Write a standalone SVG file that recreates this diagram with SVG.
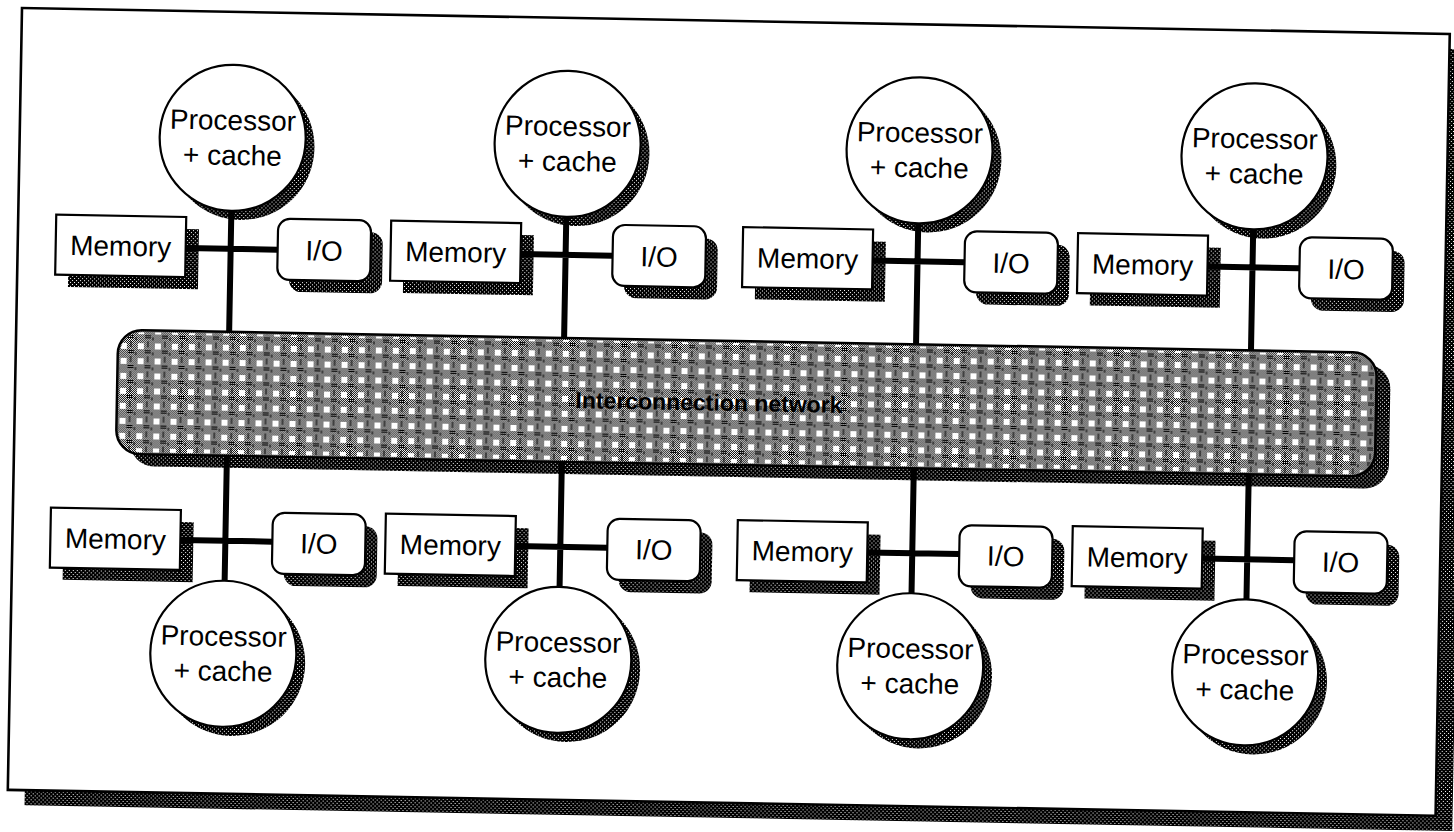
<svg xmlns="http://www.w3.org/2000/svg" width="1454" height="832" viewBox="0 0 1454 832">
<defs>
<pattern id="shade" width="4" height="4" patternUnits="userSpaceOnUse"><rect width="4" height="4" fill="#000"/><rect x="1" y="1" width="1" height="1" fill="#fff"/><rect x="3" y="3" width="1" height="1" fill="#fff"/></pattern>
<pattern id="chk" width="2" height="2" patternUnits="userSpaceOnUse"><rect width="2" height="2" fill="#fff"/><rect width="1" height="1" fill="#000"/><rect x="1" y="1" width="1" height="1" fill="#000"/></pattern>
<pattern id="patch" width="17" height="15" patternUnits="userSpaceOnUse"><rect x="3" y="3" width="6" height="6" fill="#fff"/><path d="M10 10.5h6M10 12.5h6M1 12v3M13 1v6" stroke="#000" stroke-width="1"/></pattern>
<style>
.ln{stroke:#000;stroke-width:6;fill:none;stroke-linecap:butt}
.box{fill:#fff;stroke:#000;stroke-width:2.2}
.sh{fill:url(#shade)}
.lbl{font-family:"Liberation Sans",Arial,Helvetica,sans-serif;font-size:28px;text-anchor:middle;fill:#000}
.net{font-family:"Liberation Sans",Arial,Helvetica,sans-serif;font-size:23px;font-weight:bold;text-anchor:middle;fill:#000}
</style>
</defs>
<rect width="1454" height="832" fill="#fff"/>
<g transform="translate(22 8) rotate(1.04)">
<g id="frame">
<rect class="sh" x="17" y="15" width="1428" height="782"/>
<rect x="0" y="0" width="1428" height="782" fill="#fff" stroke="#000" stroke-width="2.6"/>
</g>
<g id="network">
<rect class="sh" x="116" y="332" width="1259" height="124" rx="24"/>
<rect x="102" y="320" width="1259" height="124" rx="24" fill="url(#chk)" stroke="#000" stroke-width="2.5"/>
<rect x="104" y="322" width="1255" height="120" rx="22" fill="url(#patch)"/>
<text class="net" x="694" y="390">Interconnection network</text>
</g>

<!-- top row -->
<g id="proc-t1"><circle class="sh" cx="222" cy="135" r="73"/><circle class="box" cx="213" cy="126" r="73"/><text class="lbl" x="213" y="118">Processor</text><text class="lbl" x="213" y="153">+ cache</text></g>
<g id="mem-t1"><rect class="sh" x="51" y="218" width="130" height="60"/><rect class="box" x="38" y="206" width="130" height="60"/><text class="lbl" x="103" y="246">Memory</text></g>
<g id="io-t1"><rect class="sh" x="272" y="218" width="93" height="61" rx="12"/><rect class="box" x="260" y="206" width="93" height="61" rx="12"/><text class="lbl" x="306.5" y="247">I/O</text></g>

<g id="proc-t2"><circle class="sh" cx="557" cy="135" r="73"/><circle class="box" cx="548" cy="126" r="73"/><text class="lbl" x="548" y="118">Processor</text><text class="lbl" x="548" y="153">+ cache</text></g>
<g id="mem-t2"><rect class="sh" x="386" y="218" width="130" height="60"/><rect class="box" x="373" y="206" width="130" height="60"/><text class="lbl" x="438" y="246">Memory</text></g>
<g id="io-t2"><rect class="sh" x="607" y="218" width="93" height="61" rx="12"/><rect class="box" x="595" y="206" width="93" height="61" rx="12"/><text class="lbl" x="641.5" y="247">I/O</text></g>

<g id="proc-t3"><circle class="sh" cx="909" cy="135" r="73"/><circle class="box" cx="900" cy="126" r="73"/><text class="lbl" x="900" y="118">Processor</text><text class="lbl" x="900" y="153">+ cache</text></g>
<g id="mem-t3"><rect class="sh" x="738" y="218" width="130" height="60"/><rect class="box" x="725" y="206" width="130" height="60"/><text class="lbl" x="790" y="246">Memory</text></g>
<g id="io-t3"><rect class="sh" x="959" y="218" width="93" height="61" rx="12"/><rect class="box" x="947" y="206" width="93" height="61" rx="12"/><text class="lbl" x="993.5" y="247">I/O</text></g>

<g id="proc-t4"><circle class="sh" cx="1244" cy="135" r="73"/><circle class="box" cx="1235" cy="126" r="73"/><text class="lbl" x="1235" y="118">Processor</text><text class="lbl" x="1235" y="153">+ cache</text></g>
<g id="mem-t4"><rect class="sh" x="1073" y="218" width="130" height="60"/><rect class="box" x="1060" y="206" width="130" height="60"/><text class="lbl" x="1125" y="246">Memory</text></g>
<g id="io-t4"><rect class="sh" x="1294" y="218" width="93" height="61" rx="12"/><rect class="box" x="1282" y="206" width="93" height="61" rx="12"/><text class="lbl" x="1328.5" y="247">I/O</text></g>

<!-- bottom row -->
<g id="proc-b1"><circle class="sh" cx="222" cy="651" r="73"/><circle class="box" cx="213" cy="642" r="73"/><text class="lbl" x="213" y="634">Processor</text><text class="lbl" x="213" y="669">+ cache</text></g>
<g id="mem-b1"><rect class="sh" x="51" y="511" width="130" height="60"/><rect class="box" x="38" y="499" width="130" height="60"/><text class="lbl" x="103" y="539">Memory</text></g>
<g id="io-b1"><rect class="sh" x="272" y="512" width="93" height="61" rx="12"/><rect class="box" x="260" y="500" width="93" height="61" rx="12"/><text class="lbl" x="306.5" y="540">I/O</text></g>

<g id="proc-b2"><circle class="sh" cx="557" cy="651" r="73"/><circle class="box" cx="548" cy="642" r="73"/><text class="lbl" x="548" y="634">Processor</text><text class="lbl" x="548" y="669">+ cache</text></g>
<g id="mem-b2"><rect class="sh" x="386" y="511" width="130" height="60"/><rect class="box" x="373" y="499" width="130" height="60"/><text class="lbl" x="438" y="539">Memory</text></g>
<g id="io-b2"><rect class="sh" x="607" y="512" width="93" height="61" rx="12"/><rect class="box" x="595" y="500" width="93" height="61" rx="12"/><text class="lbl" x="641.5" y="540">I/O</text></g>

<g id="proc-b3"><circle class="sh" cx="909" cy="651" r="73"/><circle class="box" cx="900" cy="642" r="73"/><text class="lbl" x="900" y="634">Processor</text><text class="lbl" x="900" y="669">+ cache</text></g>
<g id="mem-b3"><rect class="sh" x="738" y="511" width="130" height="60"/><rect class="box" x="725" y="499" width="130" height="60"/><text class="lbl" x="790" y="539">Memory</text></g>
<g id="io-b3"><rect class="sh" x="959" y="512" width="93" height="61" rx="12"/><rect class="box" x="947" y="500" width="93" height="61" rx="12"/><text class="lbl" x="993.5" y="540">I/O</text></g>

<g id="proc-b4"><circle class="sh" cx="1244" cy="651" r="73"/><circle class="box" cx="1235" cy="642" r="73"/><text class="lbl" x="1235" y="634">Processor</text><text class="lbl" x="1235" y="669">+ cache</text></g>
<g id="mem-b4"><rect class="sh" x="1073" y="511" width="130" height="60"/><rect class="box" x="1060" y="499" width="130" height="60"/><text class="lbl" x="1125" y="539">Memory</text></g>
<g id="io-b4"><rect class="sh" x="1294" y="512" width="93" height="61" rx="12"/><rect class="box" x="1282" y="500" width="93" height="61" rx="12"/><text class="lbl" x="1328.5" y="540">I/O</text></g>

<g id="connectors" class="ln">
<path d="M213 199V320M168 237H260"/>
<path d="M548 199V320M503 237H595"/>
<path d="M900 199V320M855 237H947"/>
<path d="M1235 199V320M1190 237H1282"/>
<path d="M213 444V569M168 529H260"/>
<path d="M548 444V569M503 529H595"/>
<path d="M900 444V569M855 529H947"/>
<path d="M1235 444V569M1190 529H1282"/>
</g>
</g>
</svg>
